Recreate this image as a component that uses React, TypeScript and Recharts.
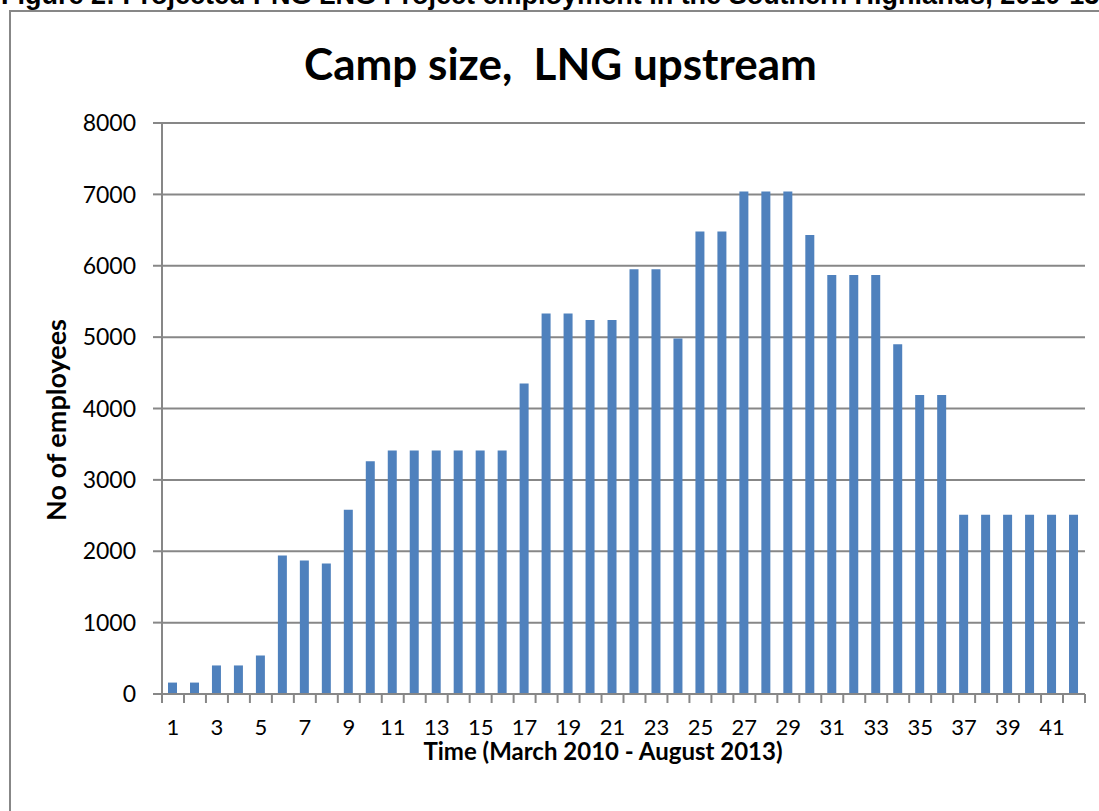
import { Bar, BarChart, CartesianGrid, XAxis, YAxis } from 'recharts';

const months = [
  '1', '2', '3', '4', '5', '6', '7', '8', '9', '10', '11', '12', '13', '14',
  '15', '16', '17', '18', '19', '20', '21', '22', '23', '24', '25', '26', '27', '28',
  '29', '30', '31', '32', '33', '34', '35', '36', '37', '38', '39', '40', '41', '42',
];

const employees = [
  160, 160, 400, 400, 540, 1940, 1870, 1830, 2580, 3260, 3410, 3410, 3410, 3410,
  3410, 3410, 4350, 5330, 5330, 5240, 5240, 5950, 5950, 4980, 6480, 6480, 7040, 7040,
  7040, 6430, 5870, 5870, 5870, 4900, 4190, 4190, 2510, 2510, 2510, 2510, 2510, 2510,
];

const yTicks = [0, 1000, 2000, 3000, 4000, 5000, 6000, 7000, 8000];

const caption = 'Figure 2: Projected PNG LNG Project employment in the Southern Highlands, 2010-13';
const title = 'Camp size,  LNG upstream';
const xTitle = 'Time (March 2010 - August 2013)';
const yTitle = 'No of employees';

const W = 1099;
const H = 811;
const X_AXIS_H = 40;
const Y_AXIS_W = 60;
const M = { top: 123, right: 14, bottom: 77, left: 102 };
const PLOT_L = M.left + Y_AXIS_W;
const PLOT_W = W - M.right - PLOT_L;
const BAND = PLOT_W / months.length;
const AXIS_Y = H - M.bottom - X_AXIS_H;
const GREY = '#878787';
const FONT = 'Lato, "Open Sans", sans-serif';

const data = months.map((m, i) => ({ month: m, value: employees[i] }));

// Excel-style ticks: marks between categories, label on every other one
function TimeTick(props: any) {
  const { x, index, payload } = props;
  const last = index === months.length - 1;
  const showLabel = index % 2 === 0;
  return (
    <g>
      <line x1={x - BAND / 2} x2={x - BAND / 2} y1={AXIS_Y} y2={AXIS_Y + 9} stroke={GREY} strokeWidth={2} />
      {last && (
        <line x1={x + BAND / 2} x2={x + BAND / 2} y1={AXIS_Y} y2={AXIS_Y + 9} stroke={GREY} strokeWidth={2} />
      )}
      {showLabel && (
        <text x={x} y={AXIS_Y + 41} textAnchor="middle" fontSize={22} fill="#000" fontFamily={FONT}>
          {payload.value}
        </text>
      )}
    </g>
  );
}

export default function App() {
  return (
    <div
      style={{
        position: 'absolute',
        left: 0,
        top: 0,
        width: W,
        height: H,
        overflow: 'hidden',
        background: '#fff',
        fontFamily: FONT,
      }}
    >
      <div
        style={{
          position: 'absolute',
          left: 1,
          top: -18,
          whiteSpace: 'nowrap',
          fontFamily: '"Liberation Sans", Arial, sans-serif',
          fontWeight: 'bold',
          fontSize: 27,
          lineHeight: '27px',
          color: '#000',
        }}
      >
        {caption}
      </div>
      <div
        style={{
          position: 'absolute',
          left: 9,
          top: 10,
          width: 1200,
          height: 900,
          border: `2px solid ${GREY}`,
        }}
      />
      <div
        style={{
          position: 'absolute',
          left: 0,
          width: W + 22,
          top: 38,
          textAlign: 'center',
          whiteSpace: 'pre',
          fontWeight: 'bold',
          fontSize: 44,
          lineHeight: '50px',
          color: '#000',
        }}
      >
        {title}
      </div>
      <BarChart width={W} height={H} data={data} margin={M} style={{ position: 'absolute', left: 0, top: 0 }}>
        <CartesianGrid vertical={false} stroke={GREY} strokeWidth={2} />
        <XAxis
          dataKey="month"
          interval={0}
          tickLine={false}
          axisLine={{ stroke: GREY, strokeWidth: 2 }}
          tick={<TimeTick />}
          height={X_AXIS_H}
        />
        <YAxis
          domain={[0, 8000]}
          ticks={yTicks}
          width={Y_AXIS_W}
          tickSize={9}
          tickMargin={17}
          tickLine={{ stroke: GREY, strokeWidth: 2 }}
          axisLine={{ stroke: GREY, strokeWidth: 2 }}
          tick={{ fontSize: 23, fill: '#000', fontFamily: FONT }}
        />
        <Bar dataKey="value" fill="#4F81BD" barSize={9} isAnimationActive={false} />
      </BarChart>
      <div
        style={{
          position: 'absolute',
          left: 403,
          width: 400,
          top: 738,
          textAlign: 'center',
          whiteSpace: 'nowrap',
          fontWeight: 'bold',
          fontSize: 24,
          lineHeight: '26px',
          color: '#000',
        }}
      >
        {xTitle}
      </div>
      <div
        style={{
          position: 'absolute',
          left: 56 - 130,
          top: 420 - 16,
          width: 260,
          height: 32,
          textAlign: 'center',
          transform: 'rotate(-90deg)',
          whiteSpace: 'nowrap',
          fontWeight: 'bold',
          fontSize: 27,
          lineHeight: '32px',
          color: '#000',
        }}
      >
        {yTitle}
      </div>
    </div>
  );
}
